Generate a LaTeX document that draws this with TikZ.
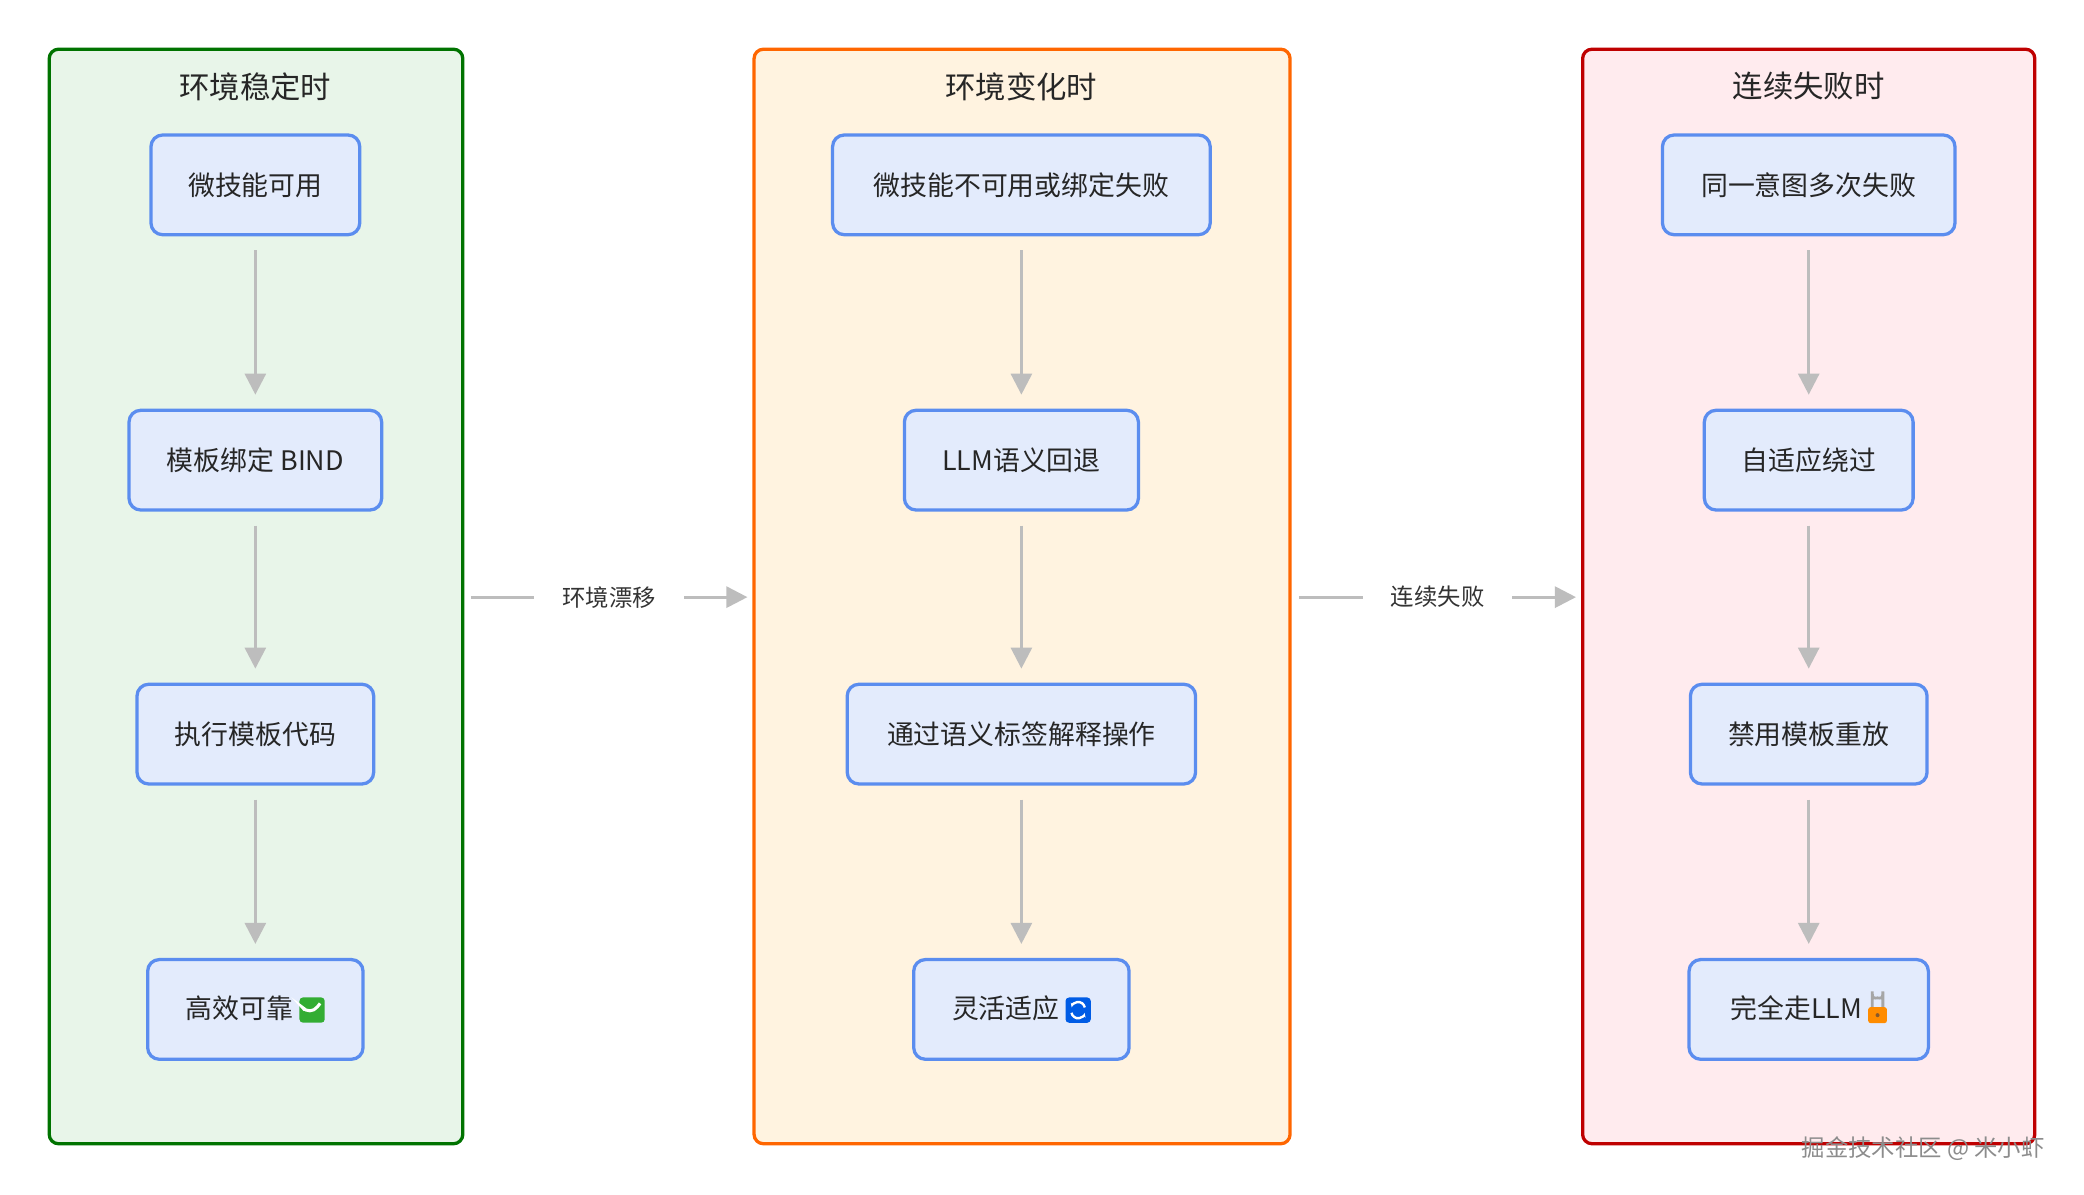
\documentclass[tikz,border=0pt]{standalone}
\usepackage{fontspec}
\setmainfont{Noto Sans CJK SC}
\usetikzlibrary{positioning,calc,arrows.meta}
\definecolor{stepfill}{HTML}{E3EBFC}
\definecolor{stepline}{HTML}{5B8DEF}
\definecolor{flowgray}{HTML}{BDBDBD}
\definecolor{calmfill}{HTML}{E8F5E9}
\definecolor{shiftfill}{HTML}{FFF3E0}
\definecolor{failfill}{HTML}{FFEBEE}
\newcommand{\iconok}{\tikz[baseline=-0.6ex,x=1cm,y=1cm]{\fill[green!60!black!80,rounded corners=1.5pt] (-0.19,-0.19) rectangle (0.19,0.19);
  \draw[white,line width=1.3pt] (-0.11,0.0) -- (-0.03,-0.09) -- (0.12,0.1);}}
\newcommand{\iconsync}{\tikz[baseline=-0.6ex,x=1cm,y=1cm]{\fill[blue!60!cyan!90!black,rounded corners=1.5pt] (-0.19,-0.19) rectangle (0.19,0.19);
  \draw[white,line width=1pt,-{Stealth[length=2pt]}] (0.1,0.04) arc (10:170:0.1);
  \draw[white,line width=1pt,-{Stealth[length=2pt]}] (-0.1,-0.04) arc (190:350:0.1);}}
\newcommand{\iconlock}{\tikz[baseline=-0.6ex,x=1cm,y=1cm]{\draw[gray!70,line width=1.2pt] (-0.08,0.02) -- (-0.08,0.1) arc (180:0:0.08) -- (0.08,0.02);
  \fill[orange!90!yellow,rounded corners=1pt] (-0.14,-0.2) rectangle (0.14,0.04);
  \fill[brown!70!black] (0,-0.08) circle (0.03);}}
\tikzset{
  cluster/.style={draw, line width=1.4pt, rounded corners=4pt},
  ctitle/.style={font=\fontsize{13}{15}\selectfont, text=black!85},
  stepbox/.style={draw=stepline, fill=stepfill, line width=1.4pt, rounded corners=5pt,
    minimum height=1.5cm, font=\fontsize{11.5}{13}\selectfont, text=black!85},
  flow/.style={draw=flowgray, line width=1.2pt, -{Triangle[length=9pt,width=9pt]}},
  drift/.style={font=\fontsize{10}{12}\selectfont, text=black!80, fill=white, inner xsep=12pt},
}
\begin{document}
\begin{tikzpicture}[x=0.02cm,y=-0.02cm]
  \useasboundingbox[fill=white] (0,0) rectangle (1567,898);
  % clusters
  \draw[cluster, draw=green!45!black, fill=calmfill] (37,37) rectangle (348,860);
  \draw[cluster, draw=orange!80!red, fill=shiftfill] (567,37) rectangle (970,860);
  \draw[cluster, draw=red!75!black, fill=failfill] (1190,37) rectangle (1530,860);
  \node[ctitle] (t1) at (192,65) {环境稳定时};
  \node[ctitle] (t2) at (768,65) {环境变化时};
  \node[ctitle] (t3) at (1360,65) {连续失败时};
  % stable
  \node[stepbox, minimum width=3.14cm] (a1) at (192,139) {微技能可用};
  \node[stepbox, minimum width=3.8cm] (a2) at (192,346) {模板绑定 BIND};
  \node[stepbox, minimum width=3.56cm] (a3) at (192,552) {执行模板代码};
  \node[stepbox, minimum width=3.24cm] (a4) at (192,759) {高效可靠 \iconok};
  % changing
  \node[stepbox, minimum width=5.68cm] (b1) at (768,139) {微技能不可用或绑定失败};
  \node[stepbox, minimum width=3.52cm] (b2) at (768,346) {LLM语义回退};
  \node[stepbox, minimum width=5.24cm] (b3) at (768,552) {通过语义标签解释操作};
  \node[stepbox, minimum width=3.24cm] (b4) at (768,759) {灵活适应 \iconsync};
  % failing
  \node[stepbox, minimum width=4.4cm] (c1) at (1360,139) {同一意图多次失败};
  \node[stepbox, minimum width=3.14cm] (c2) at (1360,346) {自适应绕过};
  \node[stepbox, minimum width=3.56cm] (c3) at (1360,552) {禁用模板重放};
  \node[stepbox, minimum width=3.6cm] (c4) at (1360,759) {完全走LLM \iconlock};
  \foreach \col in {a,b,c}
  {
    \foreach \i in {1,2,3}
    {
      \pgfmathtruncatemacro{\ii}{\i+1}
      \draw[flow, shorten <=6pt, shorten >=6pt] (\col\i) -- (\col\ii);
    }
  }
  \coordinate (e1s) at (354,449);
  \coordinate (e1t) at (562,449);
  \coordinate (e2s) at (977,449);
  \coordinate (e2t) at (1185,449);
  \draw[flow] (e1s) -- node[drift] {环境漂移} (e1t);
  \draw[flow] (e2s) -- node[drift] {连续失败} (e2t);
  \node[font=\fontsize{10}{12}\selectfont, text=black!45] (wm) at (1446,864) {掘金技术社区 @ 米小虾};
\end{tikzpicture}
\end{document}
